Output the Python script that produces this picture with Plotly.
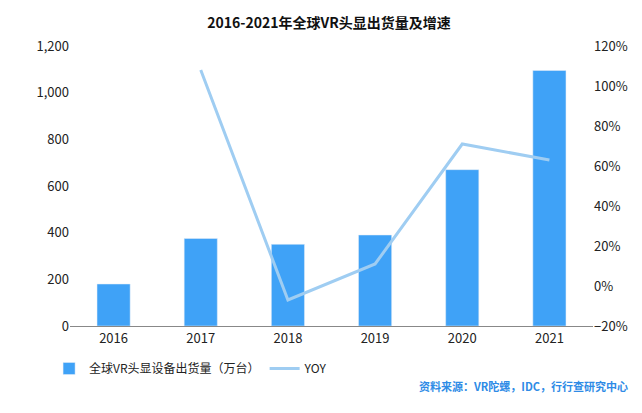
import plotly.graph_objects as go

years = ["2016", "2017", "2018", "2019", "2020", "2021"]
shipments = [180, 375, 350, 390, 670, 1095]
yoy_years = ["2017", "2018", "2019", "2020", "2021"]
yoy = [108, -7, 11, 71, 63]

fig = go.Figure()
fig.add_trace(go.Bar(x=years, y=shipments, name="全球VR头显设备出货量（万台）",
                     marker_color="#3FA2F7", width=0.38))
fig.add_trace(go.Scatter(x=yoy_years, y=yoy, name="YOY", mode="lines",
                         line=dict(color="#9FCDF2", width=3), yaxis="y2"))
font = "Noto Sans CJK SC"
fig.update_layout(
    width=642, height=413, plot_bgcolor="white", paper_bgcolor="white",
    margin=dict(l=62, r=57, t=38, b=95),
    font=dict(family=font, size=13, color="#222"),
    title=dict(text="<b>2016-2021年全球VR头显出货量及增速</b>", x=0.5, y=0.975,
               xanchor="center", font=dict(size=14, color="#111")),
    xaxis=dict(showline=True, linecolor="#888", ticks="", tickfont=dict(size=13)),
    yaxis=dict(range=[0, 1200], dtick=200, tickformat=",", showgrid=False,
               zeroline=False, tickfont=dict(size=13)),
    yaxis2=dict(range=[-20, 120], dtick=20, ticksuffix="%", overlaying="y",
                side="right", showgrid=False, zeroline=False, tickfont=dict(size=13)),
    legend=dict(orientation="h", x=-0.04, y=-0.1, xanchor="left", yanchor="top",
                font=dict(size=12), itemwidth=30),
    bargap=0.6,
    annotations=[dict(text="<b>资料来源：VR陀螺，IDC，行行查研究中心</b>", xref="paper",
                      yref="paper", x=1.07, y=-0.18, xanchor="right", yanchor="top",
                      showarrow=False, font=dict(size=11, color="#2E8BE6"))],
)
fig.write_html("out.html")
